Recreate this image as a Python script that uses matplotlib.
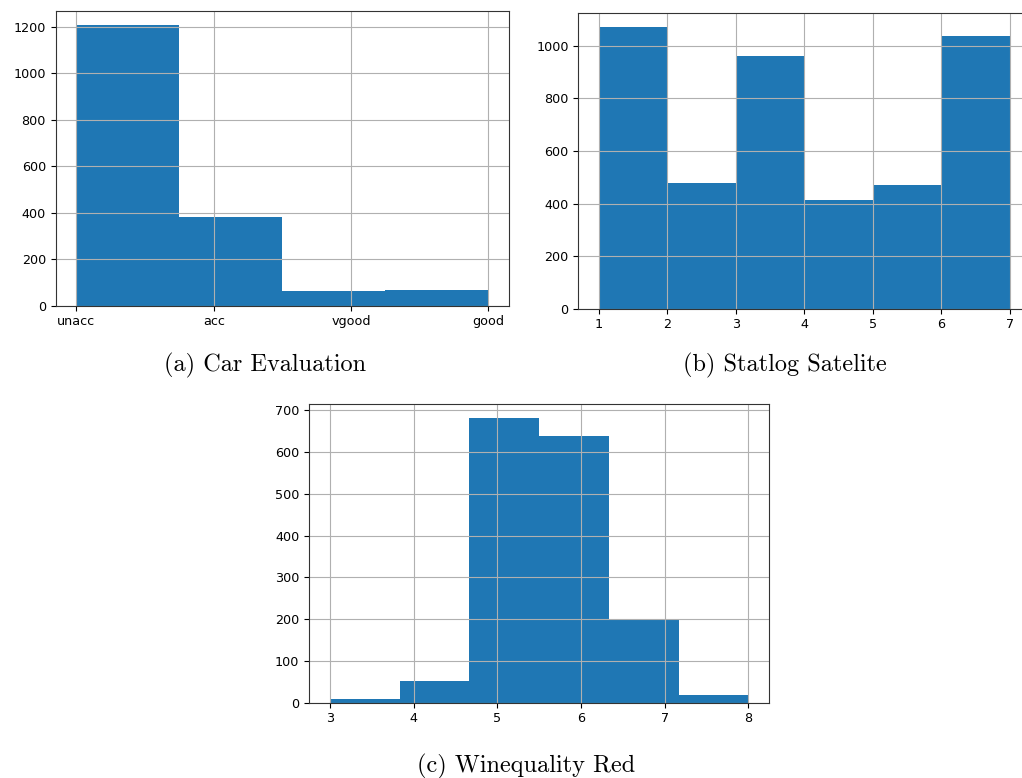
import matplotlib
matplotlib.use("Agg")
import matplotlib.pyplot as plt

# Car Evaluation class counts (encoded 0..3 on the x axis)
car_classes = ["unacc", "acc", "vgood", "good"]
car_counts = [1210, 384, 65, 69]

# Statlog Satellite class counts
sat_classes = [1, 2, 3, 4, 5, 7]
sat_counts = [1072, 479, 961, 415, 470, 1038]

# Winequality red quality counts
wine_quality = [3, 4, 5, 6, 7, 8]
wine_counts = [10, 53, 681, 638, 199, 18]

captions = ["(a) Car Evaluation", "(b) Statlog Satelite", "(c) Winequality Red"]

plt.rcParams["font.size"] = 9.2

fig = plt.figure(figsize=(10.22, 7.78), dpi=100)

ax1 = fig.add_axes([0.0545, 0.6071, 0.4436, 0.3792])
ax1.hist(range(len(car_classes)), bins=4, weights=car_counts, color="#1f77b4")
ax1.set_xticks(range(len(car_classes)))
ax1.set_xticklabels(car_classes)
ax1.grid(True)

ax2 = fig.add_axes([0.5660, 0.6032, 0.4423, 0.3805])
ax2.hist(sat_classes, bins=6, weights=sat_counts, color="#1f77b4")
ax2.grid(True)

ax3 = fig.add_axes([0.3025, 0.0968, 0.4501, 0.3839])
ax3.hist(wine_quality, bins=6, weights=wine_counts, color="#1f77b4")
ax3.grid(True)

for ax in (ax1, ax2, ax3):
    for sp in ax.spines.values():
        sp.set_color("#333333")

cap_font = dict(family="cmr10", fontsize=17.5, ha="center", va="center")
fig.text(265 / 1022, 1 - 365 / 778, captions[0], **cap_font)
fig.text(785 / 1022, 1 - 365 / 778, captions[1], **cap_font)
fig.text(526 / 1022, 1 - 766 / 778, captions[2], **cap_font)

fig.savefig("out.png", dpi=100)
